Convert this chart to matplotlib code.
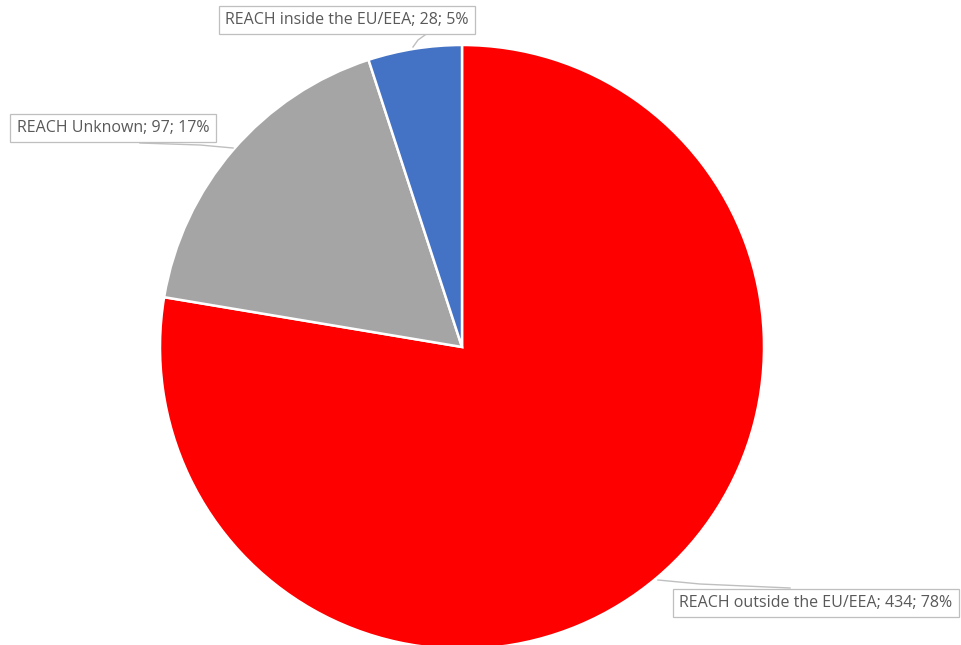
import matplotlib

matplotlib.use("Agg")
import matplotlib.pyplot as plt

plt.rcParams["font.family"] = ["Open Sans", "DejaVu Sans"]

categories = ["REACH outside the EU/EEA", "REACH Unknown", "REACH inside the EU/EEA"]
counts = [434, 97, 28]
colors = ["#FF0000", "#A5A5A5", "#4472C4"]

W, H = 962, 645
fig = plt.figure(figsize=(W / 100, H / 100), dpi=100, facecolor="white")

# pie axes placed in pixel terms
cx, cy, r = 462, 347, 302
pie_ax = fig.add_axes([(cx - r) / W, (H - cy - r) / H, 2 * r / W, 2 * r / H])
pie_ax.pie(
    counts,
    colors=colors,
    startangle=90,
    counterclock=False,
    wedgeprops={"edgecolor": "white", "linewidth": 1.8},
)
pie_ax.set_xlim(-1, 1)
pie_ax.set_ylim(-1, 1)
pie_ax.set_aspect("equal")
pie_ax.axis("off")

# overlay for callout labels, in pixel coords (y down)
ov = fig.add_axes([0, 0, 1, 1], facecolor="none")
ov.set_xlim(0, W)
ov.set_ylim(H, 0)
ov.axis("off")

total = sum(counts)
labels = [f"{c}; {n}; {round(100 * n / total)}%" for c, n in zip(categories, counts)]

# box centres and leader lines (pixel positions)
label_pos = [(816, 603), (113, 128), (347, 20)]
leaders = [
    [(658, 580), (700, 584), (790, 588)],
    [(233, 148), (200, 145), (140, 143)],
    [(413, 47), (418, 40), (425, 35)],
]

for lab, (x, y), pts in zip(labels, label_pos, leaders):
    xs, ys = zip(*pts)
    ov.plot(xs, ys, color="#BFBFBF", lw=1.0, zorder=2)
    ov.text(
        x,
        y,
        lab,
        ha="center",
        va="center",
        fontsize=11.5,
        color="#595959",
        zorder=3,
        bbox={"boxstyle": "square,pad=0.4", "fc": "white", "ec": "#BFBFBF", "lw": 0.9},
    )

fig.savefig("out.png", dpi=100, facecolor="white")
